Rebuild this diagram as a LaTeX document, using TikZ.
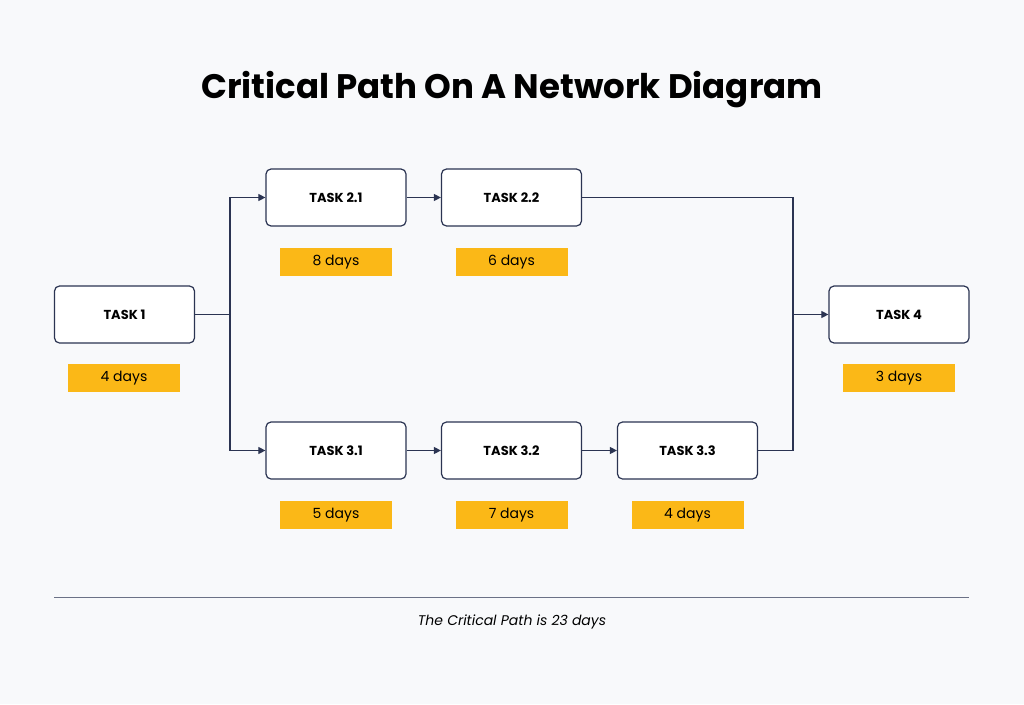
\documentclass[tikz,border=0pt]{standalone}
\usepackage{fontspec}
\setmainfont{Poppins}
\usetikzlibrary{arrows.meta}
\definecolor{bg}{HTML}{F8F9FB}
\definecolor{ln}{HTML}{2B3452}
\definecolor{hl}{HTML}{FBB817}
\begin{document}
\begin{tikzpicture}[x=1pt,y=-1pt,
 task/.style={draw=ln,line width=1.2pt,rounded corners=5pt,fill=white,minimum width=140pt,minimum height=57pt,inner sep=0pt,font=\bfseries\fontsize{13}{15}\selectfont},
 dur/.style={fill=hl,minimum width=112pt,minimum height=28pt,inner sep=0pt,font=\fontsize{14}{16}\selectfont},
 con/.style={draw=ln,line width=1.1pt},
 arr/.style={con,-{Triangle[length=7pt,width=7pt]}}]
\useasboundingbox[fill=bg] (0,0) rectangle (1024,704);
\node[font=\bfseries\fontsize{34}{40}\selectfont] (title) at (512,90) {Critical Path On A Network Diagram};
\node[task] (t1) at (124.5,314.5) {TASK 1};
\node[task] (t21) at (336,197.5) {TASK 2.1};
\node[task] (t22) at (511.5,197.5) {TASK 2.2};
\node[task] (t31) at (336,450.5) {TASK 3.1};
\node[task] (t32) at (511.5,450.5) {TASK 3.2};
\node[task] (t33) at (687.5,450.5) {TASK 3.3};
\node[task] (t4) at (899,314.5) {TASK 4};
\node[dur] (d1) at (124,378) {4 days};
\node[dur] (d21) at (336,262) {8 days};
\node[dur] (d22) at (511.5,262) {6 days};
\node[dur] (d31) at (336,515) {5 days};
\node[dur] (d32) at (511.5,515) {7 days};
\node[dur] (d33) at (687.5,515) {4 days};
\node[dur] (d4) at (899,378) {3 days};
\coordinate (jl) at (230,314.5);
\coordinate (jr) at (793,314.5);
\draw[con] (t1.east) -- (jl);
\draw[arr] (jl) |- (t21.west);
\draw[arr] (jl) |- (t31.west);
\draw[arr] (t21) -- (t22);
\draw[arr] (t31) -- (t32);
\draw[arr] (t32) -- (t33);
\draw[con] (t22.east) -| (jr);
\draw[con] (t33.east) -| (jr);
\draw[arr] (jr) -- (t4.west);
\coordinate (la) at (54,597);
\coordinate (lb) at (969,597);
\draw[draw=ln!70,line width=0.8pt] (la) -- (lb);
\node[font=\itshape\fontsize{14}{16}\selectfont] (cap) at (512,622) {The Critical Path is 23 days};
\end{tikzpicture}
\end{document}
